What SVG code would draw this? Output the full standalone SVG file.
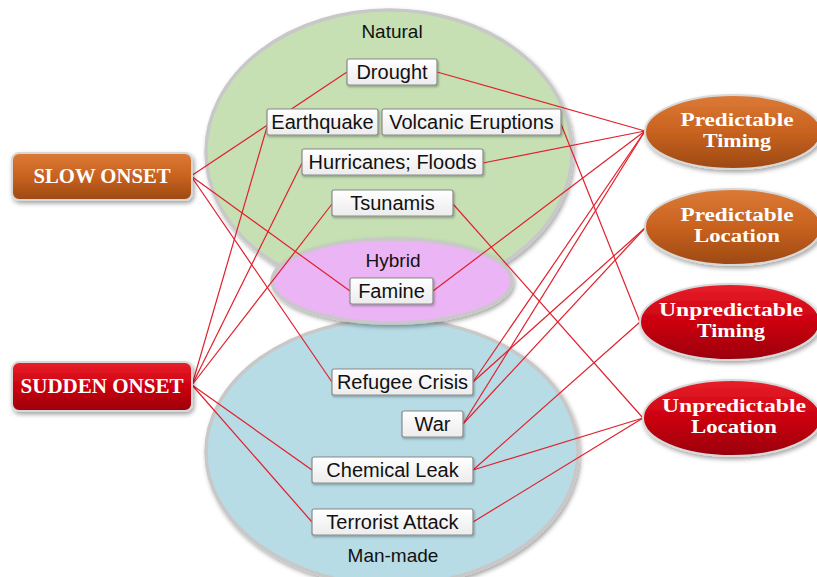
<svg xmlns="http://www.w3.org/2000/svg" width="817" height="577" viewBox="0 0 817 577">
<defs>
<linearGradient id="gBox" x1="0" y1="0" x2="0" y2="1"><stop offset="0" stop-color="#ffffff"/><stop offset="1" stop-color="#ececec"/></linearGradient>
<linearGradient id="gOrange" x1="0" y1="0" x2="0" y2="1"><stop offset="0" stop-color="#dc7a36"/><stop offset="0.5" stop-color="#c8621f"/><stop offset="1" stop-color="#9c4914"/></linearGradient>
<linearGradient id="gRed" x1="0" y1="0" x2="0" y2="1"><stop offset="0" stop-color="#e8202a"/><stop offset="0.5" stop-color="#cc0010"/><stop offset="1" stop-color="#9a000a"/></linearGradient>
<filter id="sh" x="-10%" y="-10%" width="125%" height="130%"><feDropShadow dx="1.5" dy="2.5" stdDeviation="2" flood-color="#000" flood-opacity="0.35"/></filter>
<filter id="shs" x="-10%" y="-20%" width="125%" height="150%"><feDropShadow dx="1" dy="1.5" stdDeviation="1" flood-color="#000" flood-opacity="0.3"/></filter>
</defs>
<style>
.big{stroke:#c8c8c8;stroke-width:3.5;filter:url(#sh)}
.grp{font-family:"Liberation Sans",Arial,sans-serif;font-size:19px;fill:#111;text-anchor:middle}
.box rect{fill:url(#gBox);stroke:#8a8a8a;stroke-width:1.2;filter:url(#shs)}
.box text{font-family:"Liberation Sans",Arial,sans-serif;font-size:20px;fill:#111;text-anchor:middle}
.btn{stroke:#d8d8d8;stroke-width:2;filter:url(#sh)}
.lbl{font-family:"Liberation Serif","Times New Roman",serif;font-weight:bold;fill:#fff;text-anchor:middle}
.two{font-size:18px}
#connectors line{stroke:#e0202c;stroke-width:1.2}
</style>
<rect width="817" height="577" fill="#fff"/>
<g id="natural">
<ellipse class="big" cx="389" cy="152" rx="183" ry="142" fill="#c6e0b4"/>
<text class="grp" x="392" y="38">Natural</text>
</g>
<g id="manmade">
<ellipse class="big" cx="392" cy="452" rx="186" ry="133" fill="#b7dce6"/>
<text class="grp" x="393" y="562">Man-made</text>
</g>
<g id="hybrid">
<ellipse class="big" cx="392" cy="281" rx="120" ry="42" fill="#ebb4f4" stroke="#d6d6d6"/>
<text class="grp" x="393" y="267">Hybrid</text>
</g>
<g id="connectors">
<line x1="191" y1="176" x2="347" y2="72"/>
<line x1="191" y1="176" x2="350" y2="291"/>
<line x1="191" y1="176" x2="332" y2="382"/>
<line x1="192" y1="385" x2="267" y2="127"/>
<line x1="192" y1="385" x2="302" y2="163"/>
<line x1="192" y1="385" x2="332" y2="204"/>
<line x1="192" y1="385" x2="312" y2="470"/>
<line x1="192" y1="385" x2="312" y2="522"/>
<line x1="645" y1="131" x2="437" y2="72"/>
<line x1="645" y1="131" x2="483" y2="163"/>
<line x1="645" y1="131" x2="433" y2="291"/>
<line x1="645" y1="131" x2="473" y2="382"/>
<line x1="645" y1="131" x2="463" y2="424"/>
<line x1="645" y1="228" x2="473" y2="382"/>
<line x1="645" y1="228" x2="463" y2="424"/>
<line x1="640" y1="322" x2="561" y2="124"/>
<line x1="640" y1="322" x2="473" y2="470"/>
<line x1="643" y1="418" x2="453" y2="204"/>
<line x1="643" y1="418" x2="473" y2="470"/>
<line x1="643" y1="418" x2="473" y2="522"/>
</g>
<g id="drought" class="box"><rect x="347" y="59" width="90" height="26" rx="2"/><text x="392" y="79">Drought</text></g>
<g id="earthquake" class="box"><rect x="267" y="109" width="111" height="26" rx="2"/><text x="322.5" y="129">Earthquake</text></g>
<g id="volcanic" class="box"><rect x="382" y="109" width="179" height="26" rx="2"/><text x="471.5" y="129">Volcanic Eruptions</text></g>
<g id="hurricanes" class="box"><rect x="302" y="149" width="181" height="26" rx="2"/><text x="392.5" y="169">Hurricanes; Floods</text></g>
<g id="tsunamis" class="box"><rect x="332" y="190" width="121" height="26" rx="2"/><text x="392.5" y="210">Tsunamis</text></g>
<g id="famine" class="box"><rect x="350" y="278" width="83" height="26" rx="2"/><text x="391.5" y="298">Famine</text></g>
<g id="refugee" class="box"><rect x="332" y="369" width="141" height="26" rx="2"/><text x="402.5" y="389">Refugee Crisis</text></g>
<g id="war" class="box"><rect x="402" y="411" width="61" height="26" rx="2"/><text x="432.5" y="431">War</text></g>
<g id="chemical" class="box"><rect x="312" y="457" width="161" height="26" rx="2"/><text x="392.5" y="477">Chemical Leak</text></g>
<g id="terrorist" class="box"><rect x="312" y="509" width="161" height="26" rx="2"/><text x="392.5" y="529">Terrorist Attack</text></g>
<g id="slow">
<rect class="btn" x="12" y="153" width="180" height="47" rx="7" fill="url(#gOrange)"/>
<text class="lbl" x="102" y="183" font-size="21" textLength="137" lengthAdjust="spacingAndGlyphs">SLOW ONSET</text>
</g>
<g id="sudden">
<rect class="btn" x="12" y="362" width="180" height="49" rx="7" fill="url(#gRed)"/>
<text class="lbl" x="102" y="393" font-size="21" textLength="163" lengthAdjust="spacingAndGlyphs">SUDDEN ONSET</text>
</g>
<g id="pred-timing">
<ellipse class="btn" cx="733" cy="132" rx="88" ry="37" fill="url(#gOrange)"/>
<text class="lbl two" x="737" y="126" textLength="113" lengthAdjust="spacingAndGlyphs">Predictable</text>
<text class="lbl two" x="737" y="147" textLength="68" lengthAdjust="spacingAndGlyphs">Timing</text>
</g>
<g id="pred-location">
<ellipse class="btn" cx="733" cy="227" rx="88" ry="38" fill="url(#gOrange)"/>
<text class="lbl two" x="737" y="221" textLength="113" lengthAdjust="spacingAndGlyphs">Predictable</text>
<text class="lbl two" x="737" y="242" textLength="86" lengthAdjust="spacingAndGlyphs">Location</text>
</g>
<g id="unpred-timing">
<ellipse class="btn" cx="730" cy="322" rx="90" ry="38" fill="url(#gRed)"/>
<text class="lbl two" x="731" y="316" textLength="144" lengthAdjust="spacingAndGlyphs">Unpredictable</text>
<text class="lbl two" x="731" y="337" textLength="68" lengthAdjust="spacingAndGlyphs">Timing</text>
</g>
<g id="unpred-location">
<ellipse class="btn" cx="732" cy="418" rx="89" ry="38" fill="url(#gRed)"/>
<text class="lbl two" x="734" y="412" textLength="144" lengthAdjust="spacingAndGlyphs">Unpredictable</text>
<text class="lbl two" x="734" y="433" textLength="86" lengthAdjust="spacingAndGlyphs">Location</text>
</g>
</svg>
